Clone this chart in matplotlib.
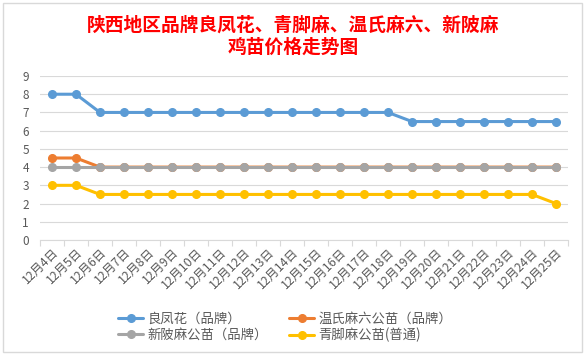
import matplotlib.pyplot as plt
from matplotlib.patches import Rectangle

plt.rcParams['font.family'] = ['Noto Sans CJK SC', 'DejaVu Sans']

dates = ['12月%d日' % d for d in range(4, 26)]
liangfenghua = [8, 8] + [7] * 13 + [6.5] * 7
wenshi = [4.5, 4.5] + [4] * 20
xinbei = [4] * 22
qingjiao = [3, 3] + [2.5] * 19 + [2]

series_names = ['良凤花（品牌）', '温氏麻六公苗（品牌）', '新陂麻公苗（品牌）', '青脚麻公苗(普通)']
series_colors = ['#5B9BD5', '#ED7D31', '#A5A5A5', '#FFC000']

W, H = 586, 356
fig = plt.figure(figsize=(W / 100, H / 100), dpi=100)
fig.patch.set_facecolor('white')

# chart border like the excel chart area
fig.patches.append(Rectangle((3 / W, 1 - 352 / H), 579 / W, 349 / H, transform=fig.transFigure,
                             fill=False, edgecolor='#D9D9D9', lw=1))

ax = fig.add_axes([40 / W, 116 / H, 528 / W, 164 / H])
x = list(range(len(dates)))
lines = []
for vals, name, col in zip([liangfenghua, wenshi, xinbei, qingjiao], series_names, series_colors):
    ln, = ax.plot(x, vals, color=col, lw=2.2, marker='o', markersize=5.5, label=name,
                  solid_capstyle='round')
    lines.append(ln)

ax.set_xlim(-0.5, len(dates) - 0.5)
ax.set_ylim(0, 9)
ax.set_yticks(range(0, 10))
ax.grid(axis='y', color='#D9D9D9', lw=0.8)
ax.set_axisbelow(True)
for s in ['top', 'right', 'left']:
    ax.spines[s].set_visible(False)
ax.spines['bottom'].set_color('#D9D9D9')
ax.spines['bottom'].set_linewidth(0.8)

ax.set_xticks(x)
ax.set_xticklabels(dates, rotation=45, ha='right', va='top', rotation_mode='anchor',
                   fontsize=8.8, color='#595959')
ax.tick_params(axis='x', length=0, pad=4)
ax.set_xticks([i - 0.5 for i in range(len(dates) + 1)], minor=True)
ax.tick_params(axis='x', which='minor', length=4, color='#D9D9D9', width=0.8)
ax.tick_params(axis='y', length=0, labelsize=8.5, labelcolor='#595959', pad=8)

fig.text(293 / W, 1 - 25 / H, '陕西地区品牌良凤花、青脚麻、温氏麻六、新陂麻',
         ha='center', va='center', color='red', fontsize=13.5, fontweight='bold')
fig.text(293 / W, 1 - 47 / H, '鸡苗价格走势图',
         ha='center', va='center', color='red', fontsize=13.5, fontweight='bold')

order = [lines[0], lines[2], lines[1], lines[3]]
leg = fig.legend(order, [l.get_label() for l in order], loc='center', ncol=2,
                 bbox_to_anchor=(285 / W, 1 - 327 / H), frameon=False, fontsize=9.6,
                 handlelength=1.9, columnspacing=1.6, labelspacing=0.2, handletextpad=0.3)
for t in leg.get_texts():
    t.set_color('#595959')

fig.savefig('out.png', dpi=100)
